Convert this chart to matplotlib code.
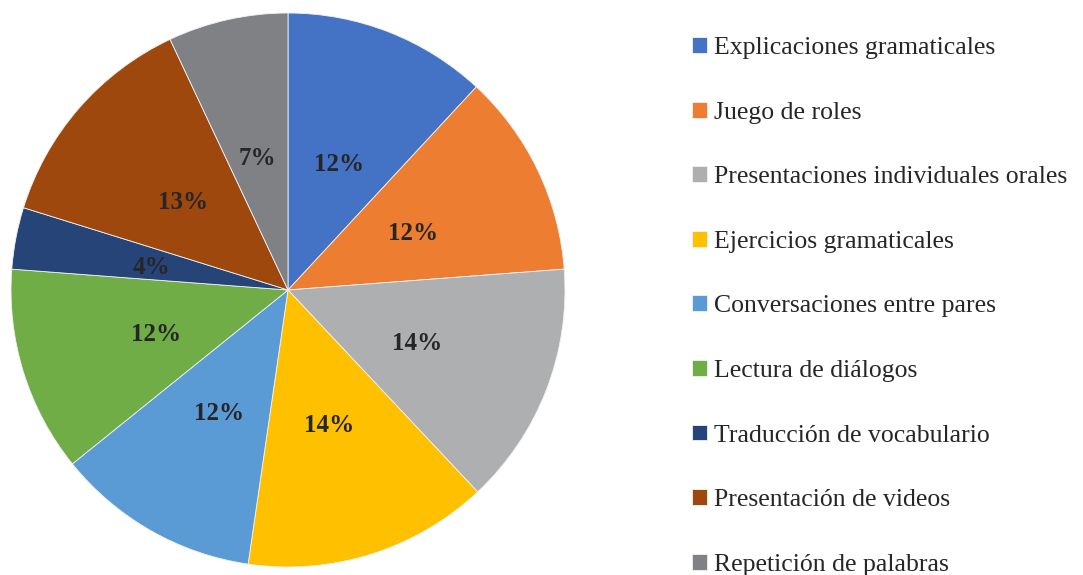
import matplotlib
matplotlib.use("Agg")
import matplotlib.pyplot as plt

plt.rcParams['font.family'] = ['Liberation Serif', 'DejaVu Serif']

# datos
categorias = ["Explicaciones gramaticales", "Juego de roles",
              "Presentaciones individuales orales", "Ejercicios gramaticales",
              "Conversaciones entre pares", "Lectura de diálogos",
              "Traducción de vocabulario", "Presentación de videos",
              "Repetición de palabras"]
porcentajes = [11.9, 11.9, 14.2, 14.3, 11.9, 12.0, 3.6, 13.2, 7.0]
colores = ["#4472C4", "#ED7D31", "#AEAFB1", "#FFC000", "#5B9BD5",
           "#70AD47", "#264478", "#9E480E", "#808184"]

W, H = 1083, 575
fig = plt.figure(figsize=(W / 100, H / 100), dpi=100)
cx, cy, R = 288, 290, 277
ax = fig.add_axes([(cx - R) / W, (H - cy - R) / H, 2 * R / W, 2 * R / H])

wedges, textos, autotextos = ax.pie(
    porcentajes, colors=colores, startangle=90, counterclock=False,
    autopct=lambda p: f"{p:.0f}%", pctdistance=0.5, radius=1,
    wedgeprops=dict(edgecolor="#f2f2f2", linewidth=0.6))
for t in autotextos:
    t.set_fontsize(18)
    t.set_fontweight("bold")
    t.set_color("#262626")
    x, y = t.get_position()
    t.set_position((x, y - 0.013))  # un poco más abajo, como en el original
ax.set_xlim(-1, 1)
ax.set_ylim(-1, 1)

leg = fig.legend(wedges, categorias, loc="upper left",
                 bbox_to_anchor=(692 / W, 1 - 37 / H), frameon=False,
                 fontsize=18.5, handlelength=0.58, handleheight=0.58,
                 handletextpad=0.27, labelspacing=1.655, borderpad=0,
                 borderaxespad=0)
for t in leg.get_texts():
    t.set_color("#262626")

fig.savefig("out.png", dpi=100)
